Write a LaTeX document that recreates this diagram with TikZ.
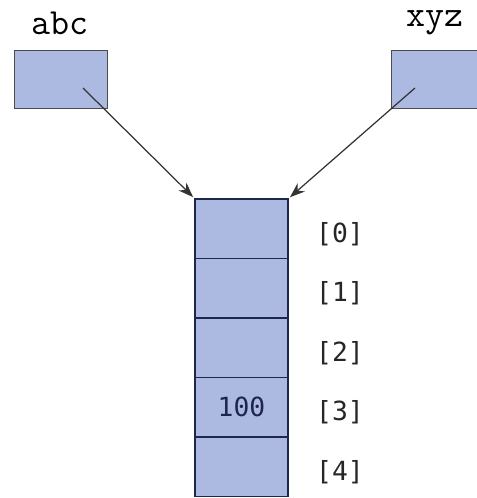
\documentclass[tikz,border=0pt]{standalone}
\usepackage{fontspec}
\usepackage{xcolor}
\usepackage{tikz}
\usetikzlibrary{arrows.meta}
\newfontfamily\celfont{DejaVu Sans Mono}
\definecolor{vak}{RGB}{172,186,226}
\definecolor{rand}{RGB}{30,38,78}

\begin{document}
\begin{tikzpicture}[
    var/.style={draw=black!70, fill=vak, minimum width=18.6mm, minimum height=11.6mm, inner sep=0pt},
    cel/.style={draw=rand, line width=0.7pt, fill=vak, minimum width=18.6mm, minimum height=11.9mm,
                inner sep=0pt, text=rand, font=\fontsize{15}{15}\celfont},
    idx/.style={text=black!85, font=\fontsize{15}{15}\celfont},
    naam/.style={font=\fontsize{21}{21}\ttfamily},
    ref/.style={draw=black!80, line width=0.7pt, shorten >=1pt, -{Stealth[length=3mm, width=2.2mm]}}]

    \clip (0,0) rectangle (9.54,-9.96);

    % variabelen
    \node[var] (abc) at (1.21,-1.58) {};
    \node[var, anchor=west] (xyz) at (7.82,-1.58) {};
    \node[naam] (labc) at (1.2,-0.46) {abc};
    \node[naam] (lxyz) at (8.7,-0.46) {xyz};

    % array
    \foreach \i/\v in {0/{},1/{},2/{},3/100,4/{}} {
        \node[cel] (c\i) at (4.83,{-3.98-1.19*(\i+0.5)}) {\v};
        \node[idx] (i\i) at (6.8,{-4.08-1.19*(\i+0.5)}) {[\i]};
    }

    % referenties
    \coordinate (pa) at (1.66,-1.76);
    \coordinate (px) at (8.3,-1.76);
    \draw[ref] (pa) -- (c0.north west);
    \draw[ref] (px) -- (c0.north east);

\end{tikzpicture}
\end{document}
